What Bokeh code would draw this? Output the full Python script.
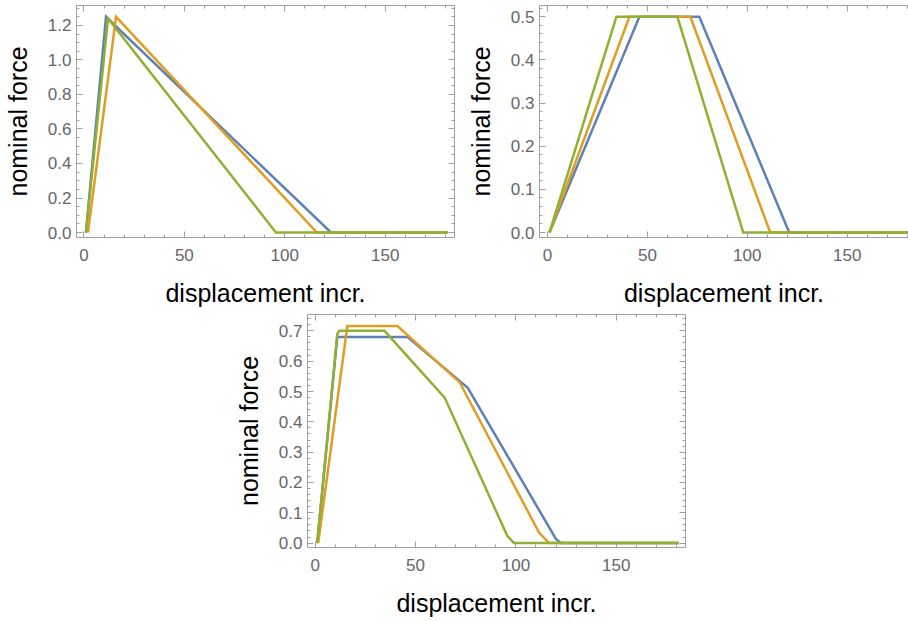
from bokeh.plotting import figure
from bokeh.layouts import column, row
from bokeh.models import (Spacer, LinearAxis, SingleIntervalTicker, NumeralTickFormatter,
                          Range1d, CustomLabelingPolicy)
from bokeh.embed import file_html
from bokeh.resources import INLINE

# ---------------- data ----------------
# top-left panel
a_blue_x = [1, 11, 123, 181]
a_blue_y = [0, 1.25, 0, 0]
a_orange_x = [2, 16, 116, 181]
a_orange_y = [0, 1.25, 0, 0]
a_green_x = [1, 12, 95.6, 181]
a_green_y = [0, 1.24, 0, 0]

# top-right panel
b_blue_x = [1, 46, 76, 121, 181]
b_blue_y = [0, 0.5, 0.5, 0, 0]
b_orange_x = [1, 41, 71.5, 111.5, 181]
b_orange_y = [0, 0.5, 0.5, 0, 0]
b_green_x = [1, 34.5, 65, 98, 181]
b_green_y = [0, 0.5, 0.5, 0, 0]

# bottom panel
c_blue_x = [1, 11, 46, 76, 120, 122.5, 181]
c_blue_y = [0, 0.68, 0.68, 0.512, 0.013, 0, 0]
c_orange_x = [1.5, 16, 41, 72, 111.5, 116.5, 181]
c_orange_y = [0, 0.716, 0.716, 0.53, 0.035, 0, 0]
c_green_x = [1, 11, 12, 34.5, 64.5, 95.7, 99, 181]
c_green_y = [0, 0.69, 0.70, 0.70, 0.48, 0.024, 0, 0]

X_LABEL = "displacement incr."
Y_LABEL = "nominal force"

COLORS = ["#5E81B5", "#E19C24", "#8FB032"]
FRAME = "#a0a0a0"
TICKLAB = "#666666"
FONT = "Liberation Sans"

NO_LABELS = """
const n = indices.size
for (let i = 0; i < n; i++) { indices.unset(i) }
return indices
"""


def style_axis(ax, labels=True):
    ax.axis_line_color = FRAME
    ax.axis_line_width = 1
    ax.major_tick_line_color = FRAME
    ax.minor_tick_line_color = FRAME
    ax.major_tick_in = 6
    ax.major_tick_out = 0
    ax.minor_tick_in = 3
    ax.minor_tick_out = 0
    ax.major_label_text_font = FONT
    ax.major_label_text_color = TICKLAB
    if labels:
        ax.major_label_text_font_size = "17px"
        ax.axis_label_text_font = FONT
        ax.axis_label_text_font_size = "25px"
        ax.axis_label_text_font_style = "normal"
        ax.axis_label_text_color = "#000000"
    else:
        ax.major_label_text_font_size = "0px"
        ax.major_label_standoff = 0
        ax.major_label_policy = CustomLabelingPolicy(code=NO_LABELS)
        ax.axis_label = None


def make_fig(width, height, xr, yr, yint, yminor, mbl, mbr, mbt, mbb, series, right_axis=True):
    p = figure(width=width, height=height, x_range=Range1d(*xr), y_range=Range1d(*yr),
               output_backend="svg", toolbar_location=None,
               min_border_left=mbl, min_border_right=mbr, min_border_top=mbt, min_border_bottom=mbb,
               x_axis_label=X_LABEL, y_axis_label=Y_LABEL)
    p.outline_line_color = None
    p.xgrid.visible = False
    p.ygrid.visible = False
    p.background_fill_color = "white"
    p.border_fill_color = "white"

    xa = p.xaxis[0]
    ya = p.yaxis[0]
    xa.ticker = SingleIntervalTicker(interval=50, num_minor_ticks=5)
    ya.ticker = SingleIntervalTicker(interval=yint, num_minor_ticks=yminor)
    xa.formatter = NumeralTickFormatter(format="0")
    ya.formatter = NumeralTickFormatter(format="0.0")
    style_axis(xa)
    style_axis(ya)
    xa.major_label_standoff = 11
    xa.axis_label_standoff = 15
    ya.major_label_standoff = 5
    ya.axis_label_standoff = 13

    top = LinearAxis(ticker=SingleIntervalTicker(interval=50, num_minor_ticks=5))
    style_axis(top, labels=False)
    p.add_layout(top, "above")
    if right_axis:
        rt = LinearAxis(ticker=SingleIntervalTicker(interval=yint, num_minor_ticks=yminor))
        style_axis(rt, labels=False)
        p.add_layout(rt, "right")

    for (xs, ys), c in zip(series, COLORS):
        p.line(xs, ys, line_color=c, line_width=2.5, line_join="miter")
    return p


pa = make_fig(458, 309, (-3.7, 184.5), (-0.0289, 1.3156), 0.2, 4, 76, 4, 5, 71,
              [(a_blue_x, a_blue_y), (a_orange_x, a_orange_y), (a_green_x, a_green_y)])
pb = make_fig(450, 309, (-4.0, 180.7), (-0.01154, 0.526), 0.1, 5, 81, 0, 5, 71,
              [(b_blue_x, b_blue_y), (b_orange_x, b_orange_y), (b_green_x, b_green_y)],
              right_axis=False)
pc = make_fig(458, 311, (-3.84, 184.5), (-0.0145, 0.754), 0.1, 5, 76, 4, 5, 73,
              [(c_blue_x, c_blue_y), (c_orange_x, c_orange_y), (c_green_x, c_green_y)])

layout = column(row(pa, pb), row(Spacer(width=231, height=311), pc))

open("out.html", "w").write(file_html(layout, INLINE))
